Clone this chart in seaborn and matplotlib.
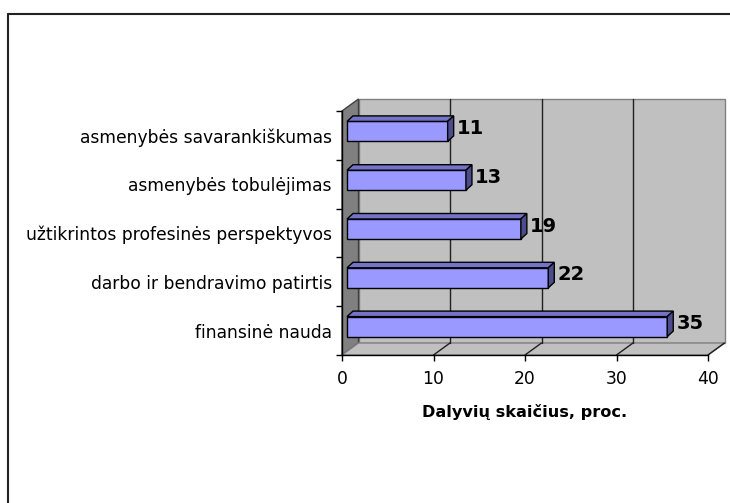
import matplotlib
matplotlib.use("Agg")
import matplotlib.pyplot as plt
import seaborn as sns
import pandas as pd
from matplotlib.patches import Polygon, Rectangle
from matplotlib.lines import Line2D
from matplotlib.transforms import ScaledTranslation

# ---- data ----
categories = ["asmenybės savarankiškumas", "asmenybės tobulėjimas",
              "užtikrintos profesinės perspektyvos", "darbo ir bendravimo patirtis",
              "finansinė nauda"]
values = [11, 13, 19, 22, 35]
x_ticks = [0, 10, 20, 30, 40]
x_label = "Dalyvių skaičius, proc."

sns.set_style("white")
plt.rcParams["font.family"] = ["DejaVu Sans"]
plt.rcParams["text.color"] = "black"
plt.rcParams["axes.labelcolor"] = "black"
plt.rcParams["xtick.color"] = "black"
plt.rcParams["ytick.color"] = "black"

W, H, DPI = 730, 503, 100
fig = plt.figure(figsize=(W / DPI, H / DPI), dpi=DPI)
fig.patch.set_facecolor("white")

# front plane of the 3D plot, in pixels
L, R, T, B = 342, 708, 111, 355
ax = fig.add_axes([L / W, 1 - B / H, (R - L) / W, (B - T) / H])
ax.set_xlim(0, 40)
ax.set_ylim(4.5, -0.5)

# pixel -> data conversions
px_x = 40 / (R - L)
px_y = 5 / (B - T)
dxd, dyd = 16.5 * px_x, -12 * px_y  # depth of the plot box

# walls
back = Rectangle((dxd, -0.5 + dyd), 40, 5, facecolor="#C0C0C0", edgecolor="#808080",
                 lw=1, zorder=0.1, clip_on=False)
ax.add_patch(back)
left = Polygon([(0, -0.5), (0, 4.5), (dxd, 4.5 + dyd), (dxd, -0.5 + dyd)],
               closed=True, facecolor="#808080", edgecolor="#404040", lw=1,
               zorder=0.2, clip_on=False)
ax.add_patch(left)
floor = Polygon([(0, 4.5), (40, 4.5), (40 + dxd, 4.5 + dyd), (dxd, 4.5 + dyd)],
                closed=True, facecolor="#C0C0C0", edgecolor="#808080", lw=1,
                zorder=0.2, clip_on=False)
ax.add_patch(floor)
for xv in x_ticks[1:-1]:
    ax.plot([xv + dxd, xv + dxd], [-0.5 + dyd, 4.5 + dyd], color="#202020", lw=1,
            zorder=0.3, clip_on=False)
for xv in x_ticks[1:]:
    ax.plot([xv, xv + dxd], [4.5, 4.5 + dyd], color="#202020", lw=1,
            zorder=0.3, clip_on=False)

# bars
df = pd.DataFrame({"cat": categories, "val": values})
sns.barplot(data=df, x="val", y="cat", orient="h", color="#9999FF", saturation=1,
            edgecolor="black", linewidth=1, width=0.41, ax=ax, zorder=2)

shift = ScaledTranslation(5 / DPI, 4 / DPI, fig.dpi_scale_trans)
bdx, bdy = 6 * px_x, -5.5 * px_y
for p in list(ax.patches):
    if p in (back, left, floor):
        continue
    p.set_transform(ax.transData + shift)
    p.set_clip_on(False)
    x0, y0 = p.get_x(), p.get_y()
    w, h = p.get_width(), p.get_height()
    x1 = x0 + w
    top = Polygon([(x0, y0), (x1, y0), (x1 + bdx, y0 + bdy), (x0 + bdx, y0 + bdy)],
                  closed=True, facecolor="#7373C8", edgecolor="black", lw=1,
                  transform=ax.transData + shift, zorder=2, clip_on=False)
    side = Polygon([(x1, y0), (x1 + bdx, y0 + bdy), (x1 + bdx, y0 + h + bdy), (x1, y0 + h)],
                   closed=True, facecolor="#4C4C8C", edgecolor="black", lw=1,
                   transform=ax.transData + shift, zorder=2, clip_on=False)
    ax.add_patch(top)
    ax.add_patch(side)

# value labels
for i, v in enumerate(values):
    ax.annotate(str(v), xy=(v, i), xytext=(14 * 0.72, 7 * 0.72), textcoords="offset points",
                ha="left", va="center", fontsize=14, fontweight="bold", color="black",
                zorder=5, annotation_clip=False)

# axes styling
for s in ["top", "right"]:
    ax.spines[s].set_visible(False)
for s in ["left", "bottom"]:
    ax.spines[s].set_color("black")
    ax.spines[s].set_linewidth(1)
    ax.spines[s].set_zorder(3)

ax.set_xticks(x_ticks)
ax.set_xticklabels([str(t) for t in x_ticks])
ax.tick_params(axis="x", direction="out", length=4.5, width=1, color="black",
               labelcolor="black", labelsize=12.3, pad=6, bottom=True)
ax.set_yticks(range(len(categories)))
ax.set_yticklabels(categories)
ax.set_yticks([i - 0.5 for i in range(len(categories) + 1)], minor=True)
ax.tick_params(axis="y", which="major", length=0, labelsize=12.3, pad=7.2, left=False,
               labelcolor="black")
ax.tick_params(axis="y", which="minor", direction="out", length=4.5, width=1,
               color="black", left=True)
ax.set_ylabel("")
ax.set_xlabel(x_label, fontsize=11.6, fontweight="bold", color="black")
ax.xaxis.set_label_coords(0.5, (H - 412 - (H - B)) / (B - T))
ax.xaxis.label.set_va("center")
ax.set_facecolor("none")
ax.grid(False)

# outer chart frame
fig.add_artist(Line2D([8 / W, 8 / W], [0, 1 - 14 / H], color="#222222", lw=1.5,
                      transform=fig.transFigure))
fig.add_artist(Line2D([8 / W, 1], [1 - 14 / H, 1 - 14 / H], color="#222222", lw=1.5,
                      transform=fig.transFigure))

fig.savefig("out.png", dpi=DPI, facecolor="white")
